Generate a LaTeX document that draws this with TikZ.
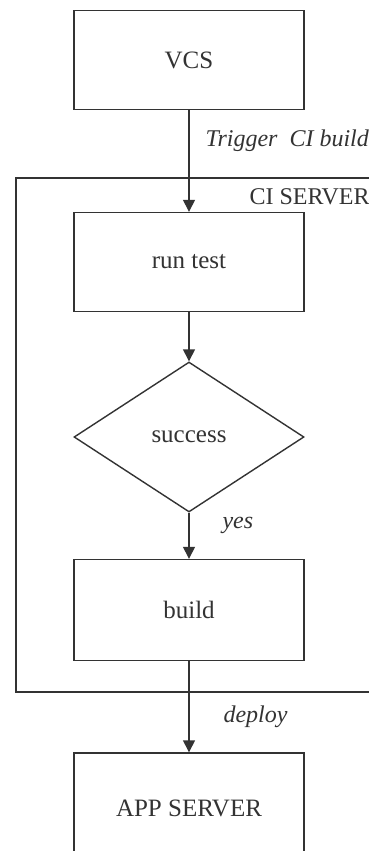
\documentclass[tikz,border=0pt]{standalone}
\usepackage{fontspec}
\setmainfont{Liberation Serif}
\usetikzlibrary{arrows.meta,shapes.geometric}
\definecolor{ink}{HTML}{333333}
\begin{document}
\begin{tikzpicture}[x=1pt,y=-1pt,
  every node/.style={text=ink,font=\fontsize{25}{28}\selectfont},
  box/.style={draw=ink,line width=1.4pt,minimum width=230pt,minimum height=99pt,inner sep=0pt},
  conn/.style={draw=ink,line width=1.4pt,-{Triangle[length=12pt,width=12pt]}},
  lbl/.style={font=\fontsize{24}{26}\selectfont\itshape,anchor=west}]
\useasboundingbox (0,0) rectangle (369,851);
\clip (0,0) rectangle (369,851);
\fill[white] (0,0) rectangle (369,851);
% CI server frame
\coordinate (ctr) at (380,178);
\coordinate (cbr) at (380,692);
\draw[ink,line width=1.4pt] (ctr) -- (16,178) -- (16,692) -- (cbr);
\node[anchor=west,font=\fontsize{24}{26}\selectfont] (cilbl) at (246,197) {CI SERVER};
% nodes
\node[box] (vcs) at (189,60) {VCS};
\node[box] (run) at (189,262) {run test};
\node[draw=ink,line width=1.4pt,shape=diamond,minimum width=230pt,minimum height=150pt,inner sep=0pt] (succ) at (189,437) {success};
\node[box,minimum height=101pt] (build) at (189,610) {build};
\node[box,minimum height=110pt] (app) at (189,808) {APP SERVER};
% connectors
\draw[conn] (vcs.south) -- (run.north);
\draw[conn] (run.south) -- (succ.north);
\draw[conn] (succ.south) -- (build.north);
\draw[conn] (build.south) -- (app.north);
% labels
\node[lbl] (trig) at (202,141) {Trigger\ \ CI build};
\node[lbl] (yes) at (219,525) {yes};
\node[lbl] (dep) at (220,717) {deploy};
\end{tikzpicture}
\end{document}
